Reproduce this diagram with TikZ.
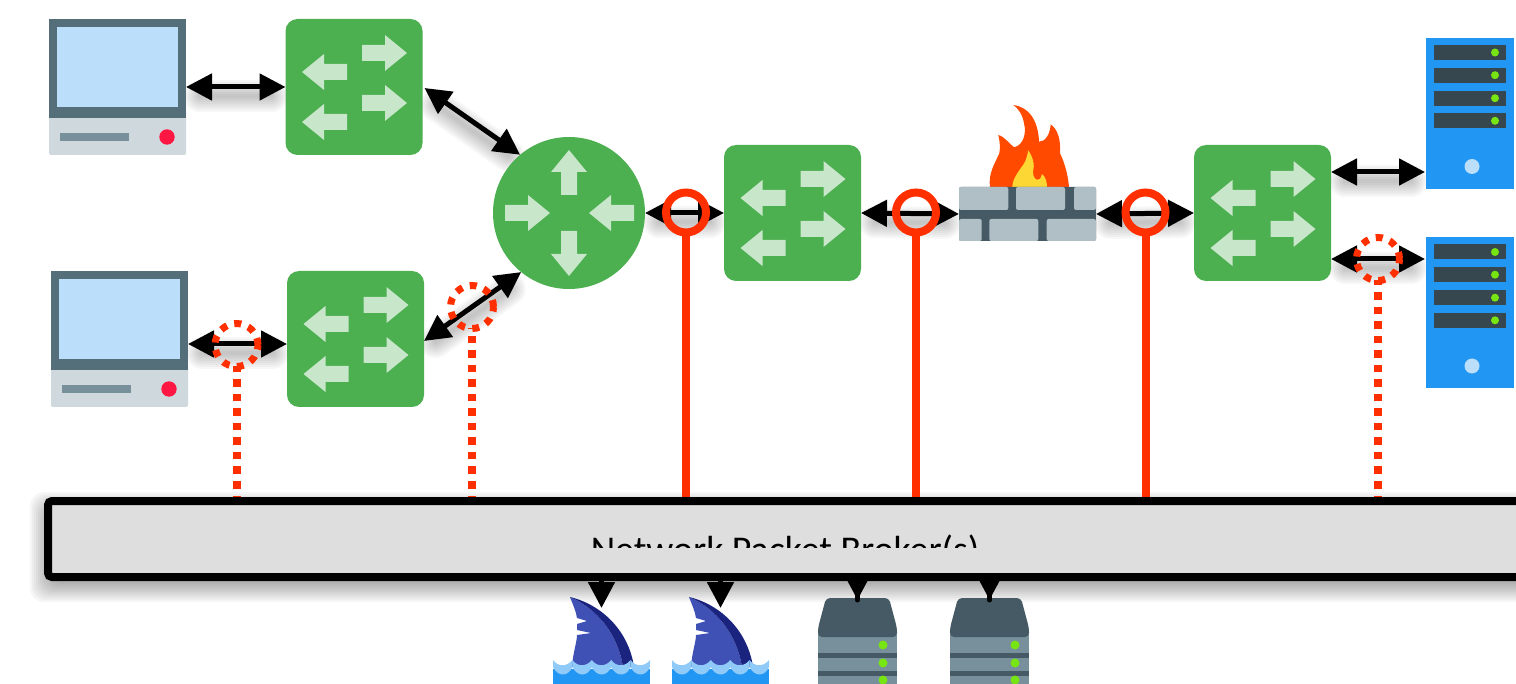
\documentclass[tikz,border=0pt]{standalone}
\usepackage{fontspec}
\setmainfont{Carlito}
\usetikzlibrary{arrows.meta,calc}
\pgfdeclarelayer{bg}
\pgfsetlayers{bg,main}
\definecolor{swgreen}{HTML}{4CAF50}
\definecolor{swlight}{HTML}{C8E6C9}
\definecolor{slate}{HTML}{546E7A}
\definecolor{scr}{HTML}{BBDEFB}
\definecolor{basegray}{HTML}{CFD8DC}
\definecolor{midgray}{HTML}{78909C}
\definecolor{dotred}{HTML}{FF1744}
\definecolor{mortar}{HTML}{455A64}
\definecolor{brick}{HTML}{B0BEC5}
\definecolor{flameo}{HTML}{FF4A00}
\definecolor{flamey}{HTML}{FDD835}
\definecolor{srvblue}{HTML}{2196F3}
\definecolor{slotdark}{HTML}{37474F}
\definecolor{led}{HTML}{76E512}
\definecolor{tapred}{HTML}{FF2F00}
\definecolor{barfill}{HTML}{DEDEDE}
\definecolor{finblue}{HTML}{3F51B5}
\definecolor{findark}{HTML}{1A237E}
\definecolor{wavelight}{HTML}{90CAF9}
\tikzset{
  x=1pt,y=-1pt,
  every node/.style={inner sep=0pt,outer sep=0pt},
  switchbox/.style={fill=swgreen,rounded corners=12pt,minimum width=137pt,minimum height=136pt},
  routerbox/.style={circle,fill=swgreen,minimum size=152pt},
  iconbox/.style={minimum width=137pt,minimum height=136pt},
  wallbox/.style={fill=mortar,rounded corners=2pt,minimum width=137pt,minimum height=54pt},
  towerbox/.style={fill=srvblue,minimum width=88pt,minimum height=151pt},
  finbox/.style={minimum width=97pt,minimum height=96pt},
  stackbox/.style={minimum width=79pt,minimum height=100pt},
  dbl/.style={black,line width=5pt,{Triangle[length=26pt,width=26pt]}-{Triangle[length=26pt,width=26pt]}},
  oneway/.style={black,line width=5pt,-{Triangle[length=26pt,width=26pt]}},
  tapsolid/.style={circle,draw=tapred,line width=8pt,minimum size=40pt},
  tapdot/.style={circle,draw=tapred,line width=7pt,minimum size=43pt,dash pattern=on 7pt off 7.5pt},
  solidfeed/.style={tapred,line width=8pt},
  dotfeed/.style={tapred,line width=8pt,dash pattern=on 7.5pt off 7pt},
  brokerbar/.style={draw=black,fill=barfill,line width=8pt,rounded corners=4pt,minimum width=1482pt,minimum height=76pt},
  softstroke/.style={black,opacity=.03,line cap=round,transform canvas={yshift=-9pt}},
  fatarrow/.pic={\fill[swlight] (0,-8)--(23,-8)--(23,-18)--(45,0)--(23,18)--(23,8)--(0,8)--cycle;},
  swicon/.pic={
    \pic at (8,-34) {fatarrow};
    \pic at (8,16) {fatarrow};
    \pic[rotate=180] at (-7,-15) {fatarrow};
    \pic[rotate=180] at (-7,35) {fatarrow};
  },
  rticon/.pic={
    \pic[rotate=90] at (0,-18) {fatarrow};
    \pic[rotate=-90] at (0,18) {fatarrow};
    \pic at (-64,0) {fatarrow};
    \pic[rotate=180] at (65,0) {fatarrow};
  },
  pcicon/.pic={
    \begin{scope}[shift={(-68.5,-68)}]
      \fill[basegray,rounded corners=2pt] (0,90) rectangle (137,136);
      \fill[slate] (0,0) rectangle (137,99);
      \fill[scr] (7.7,7.7) rectangle (129,87.7);
      \fill[midgray] (11,114) rectangle (80,122);
      \fill[dotred] (118,118) circle (7.7);
    \end{scope}
  },
  walicon/.pic={
    \begin{scope}[shift={(-68.5,-27)}]
      \fill[brick,rounded corners=2pt] (0,0) rectangle (49.3,23);
      \fill[brick,rounded corners=2pt] (57,0) rectangle (106,23);
      \fill[brick,rounded corners=2pt] (115,0) rectangle (137,23);
      \fill[brick,rounded corners=2pt] (0,32) rectangle (22.7,54);
      \fill[brick,rounded corners=2pt] (30.3,32) rectangle (79.3,54);
      \fill[brick,rounded corners=2pt] (87.7,32) rectangle (137,54);
    \end{scope}
  },
  towericon/.pic={
    \foreach \yy in {-68.5,-45.8,-22.8,-0.2}{
      \fill[slotdark] (-36,\yy) rectangle (36,\yy+15);
      \fill[led] (25,\yy+7.5) circle (4);
    }
    \fill[scr] (2,53) circle (7.5);
  },
  finicon/.pic={
    \begin{scope}[shift={(-48.5,-48)}]
      \fill[finblue] (17,0) .. controls (45,12) and (65,38) .. (70,70) -- (19,70)
        .. controls (20,55) and (24,45) .. (24,38) -- (38,36) -- (24,33) -- (24,27) -- (34,24) -- (24,21)
        .. controls (23,14) and (20,8) .. (17,0) -- cycle;
      \fill[findark] (17,0) .. controls (50,8) and (76,35) .. (81,70) -- (70,70)
        .. controls (65,38) and (45,12) .. (17,0) -- cycle;
      \fill[srvblue] (0,72) rectangle (97,96);
      \foreach \i in {0,...,4}{
        \fill[wavelight] (\i*19.4,63) .. controls (\i*19.4+5,70) and (\i*19.4+14,70) .. (\i*19.4+19.4,63)
          -- (\i*19.4+19.4,70) .. controls (\i*19.4+15,80) and (\i*19.4+5,80) .. (\i*19.4,70) -- cycle;
      }
    \end{scope}
  },
  stackicon/.pic={
    \begin{scope}[shift={(-39.5,-50)}]
      \fill[midgray] (0,76) rectangle (79,100);
      \fill[mortar] (0,72) rectangle (79,78);
      \fill[midgray] (0,58) rectangle (79,73);
      \fill[mortar] (0,54) rectangle (79,60);
      \fill[midgray] (0,36) rectangle (79,55);
      \fill[mortar,rounded corners=4pt] (8,0) -- (71,0) -- (79,30) -- (79,39) -- (0,39) -- (0,30) -- cycle;
      \foreach \yy in {47,65,82}{\fill[led] (65,\yy) circle (4.5);}
    \end{scope}
  },
}
\newcommand\softlink[2]{%
  \begin{pgfonlayer}{bg}
    \foreach \wd in {4,8,12,16,20,24,28,32}{
      \draw[softstroke,line width=\wd pt,shorten >=14pt,shorten <=14pt] (#1) -- (#2);
    }
  \end{pgfonlayer}}
\newcommand\dlink[2]{\softlink{#1}{#2}\draw[dbl] (#1) -- (#2);}
\begin{document}
\begin{tikzpicture}
\useasboundingbox (0,0) rectangle (1516,684);
\clip (0,0) rectangle (1516,684);
% icons
\node[iconbox] (pca) at (117.5,87) {}; \pic at (pca.center) {pcicon};
\node[iconbox] (pcb) at (119.5,339) {}; \pic at (pcb.center) {pcicon};
\node[switchbox] (swa) at (354,87) {}; \pic at (swa.center) {swicon};
\node[switchbox] (swb) at (355.5,339) {}; \pic at (swb.center) {swicon};
\node[routerbox] (rt) at (569,213) {}; \pic at (rt.center) {rticon};
\node[switchbox] (swc) at (792.5,213) {}; \pic at (swc.center) {swicon};
\node[switchbox] (swd) at (1262.5,213) {}; \pic at (swd.center) {swicon};
% firewall
\fill[flameo] (990,187.3) .. controls (988,173.3) and (995,163.3) .. (999.3,153.3)
  .. controls (1000.7,145) and (999.3,140) .. (998.3,135)
  .. controls (1005,136.7) and (1010,145) .. (1014.3,147.3)
  .. controls (1023.3,145) and (1026.7,133.3) .. (1024,123.3)
  .. controls (1022.7,115) and (1018.3,108.3) .. (1013.3,105)
  .. controls (1028.3,106.7) and (1038.3,120) .. (1039,141.7)
  .. controls (1045,141.7) and (1050,135) .. (1050.7,124.3)
  .. controls (1058.3,130) and (1060.7,140) .. (1060,153.3)
  .. controls (1065,163.3) and (1068.3,176.7) .. (1069,187.3) -- cycle;
\fill[flamey] (1012.3,187.3) .. controls (1012.3,177) and (1021.7,168.3) .. (1025,161.7)
  .. controls (1028.3,154) and (1028,150) .. (1028,150)
  .. controls (1033,157) and (1035,165) .. (1033,172)
  .. controls (1033,180) and (1040,184) .. (1042,174)
  .. controls (1046,177) and (1047,183) .. (1047,187.3) -- cycle;
\node[wallbox] (fw) at (1027.5,214) {}; \pic at (fw.center) {walicon};
% servers
\node[towerbox] (srva) at (1470,113.5) {}; \pic at (srva.center) {towericon};
\node[towerbox] (srvb) at (1470,313) {}; \pic at (srvb.center) {towericon};
% bottom tools
\node[finbox] (fina) at (601.5,645) {}; \pic at (fina.center) {finicon};
\node[finbox] (finb) at (720.5,645) {}; \pic at (finb.center) {finicon};
\node[stackbox] (stka) at (857.5,648) {}; \pic at (stka.center) {stackicon};
\node[stackbox] (stkb) at (989.5,648) {}; \pic at (stkb.center) {stackicon};
% broker position
\path (789,539) coordinate (barc);
% links
\dlink{pca.east}{swa.west}
\dlink{$(pcb.east)+(0,5)$}{$(swb.west)+(0,5)$}
\dlink{$(swa.east)+(2,1)$}{rt.130}
\dlink{$(swb.east)+(0,2)$}{rt.231}
\dlink{rt.east}{swc.west}
\dlink{swc.east}{fw.west}
\dlink{fw.east}{swd.west}
\dlink{$(swd.east)+(0,-41)$}{$(srva.west)+(-1,58.5)$}
\dlink{$(swd.east)+(0,46)$}{$(srvb.west)+(-1,-54)$}
% taps
\node[tapsolid] (tapa) at (686,212.5) {};
\node[tapsolid] (tapb) at (916,212.5) {};
\node[tapsolid] (tapc) at (1145.5,212.5) {};
\node[tapdot] (dota) at (236.5,345) {};
\node[tapdot] (dotb) at (472,307) {};
\node[tapdot] (dotc) at (1378,259) {};
\coordinate (bartop) at (0,503);
\coordinate (barbot) at (0,577);
\draw[solidfeed] (tapa.south) -- (tapa.south |- bartop);
\draw[solidfeed] (tapb.south) -- (tapb.south |- bartop);
\draw[solidfeed] (tapc.south) -- (tapc.south |- bartop);
\draw[dotfeed] (dota.south |- bartop) -- (dota.south);
\draw[dotfeed] (dotb.south |- bartop) -- (dotb.south);
\draw[dotfeed] (dotc.south |- bartop) -- (dotc.south);
% tool feeds
\draw[oneway] (fina.north |- barbot) -- ($(fina.north)+(0,11)$);
\draw[oneway] (finb.north |- barbot) -- ($(finb.north)+(0,11)$);
\draw[black,line width=5pt,line cap=round] (stka.north |- barbot) -- ($(stka.north)+(0,2)$);
\draw[black,line width=5pt,line cap=round] (stkb.north |- barbot) -- ($(stkb.north)+(0,2)$);
\draw[oneway,shorten >=-1pt] (stka.north |- barbot) -- ($(stka.north)+(0,1)$);
\draw[oneway,shorten >=-1pt] (stkb.north |- barbot) -- ($(stkb.north)+(0,1)$);
% broker
\begin{pgfonlayer}{bg}
  \foreach \gr in {0,2,4,6,8,10,12,14,16,18}{
    \fill[black,opacity=.035,rounded corners=14pt] (48-\gr,510-\gr) rectangle (1530+\gr,584+\gr);
  }
\end{pgfonlayer}
\node[brokerbar] (bar) at (barc) {};
\begin{scope}
  \clip (500,520) rectangle (1100,547);
  \node[anchor=base,font=\fontsize{37.8}{44}\selectfont] (barlabel) at (785,562) {Network Packet Broker(s)};
\end{scope}
\end{tikzpicture}
\end{document}
